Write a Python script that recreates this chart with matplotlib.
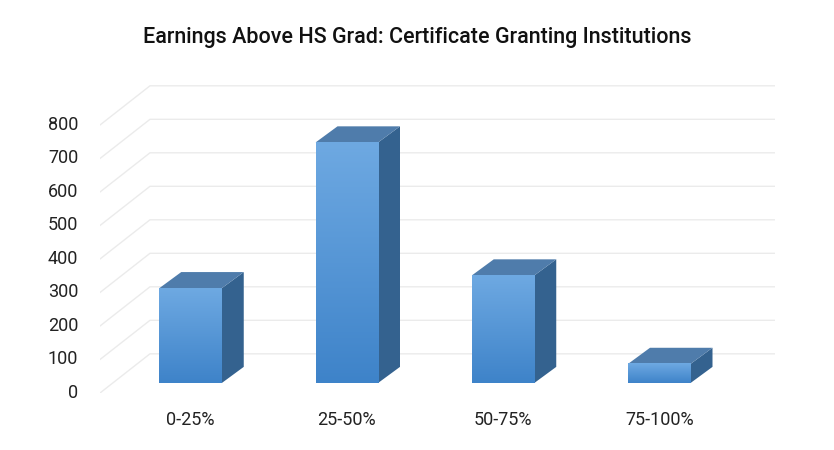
import matplotlib
matplotlib.use("Agg")
import matplotlib.pyplot as plt
import numpy as np
from matplotlib.patches import Polygon

categories = ["0-25%", "25-50%", "50-75%", "75-100%"]
values = [283, 718, 321, 57]
tick_values = [0, 100, 200, 300, 400, 500, 600, 700, 800]

plt.rcParams["font.family"] = ["Roboto", "DejaVu Sans"]

fig = plt.figure(figsize=(8.34, 4.5), dpi=100)
ax = fig.add_axes([100 / 834, 57 / 450, 675 / 834, 333 / 450])
ax.set_xlim(-0.58, 3.74)
ax.set_ylim(-30, 964)
ax.axis("off")

# perspective offsets (data units)
wall_dx, wall_dy = 0.32, 117   # floor depth of back wall
bar_dx, bar_dy = 0.14, 48      # bar depth
half_w = 0.2

# slanted gridlines on back wall
for v in tick_values:
    ax.plot([-0.58, -0.58 + wall_dx, 3.74], [v - 30, v - 30 + wall_dy, v - 30 + wall_dy],
            color="#ebebeb", lw=1, zorder=1)
    ax.text(-0.72, v - 30, str(v), ha="right", va="center", fontsize=13, color="#222222")

grad = np.linspace(1, 0, 256).reshape(-1, 1)
cmap = matplotlib.colors.LinearSegmentedColormap.from_list("b", ["#3e83c9", "#6ea9e2"])
for i, (cat, v) in enumerate(zip(categories, values)):
    x0, x1 = i - half_w, i + half_w
    # side face
    ax.add_patch(Polygon([(x1, 0), (x1 + bar_dx, bar_dy), (x1 + bar_dx, v + bar_dy), (x1, v)],
                         closed=True, fc="#34628f", ec="none", zorder=2))
    # top face
    ax.add_patch(Polygon([(x0, v), (x0 + bar_dx, v + bar_dy), (x1 + bar_dx, v + bar_dy), (x1, v)],
                         closed=True, fc="#4f7cab", ec="none", zorder=2))
    # front face gradient
    ax.imshow(grad[::-1], extent=[x0, x1, 0, v], cmap=cmap, aspect="auto", zorder=3,
              origin="lower")
    ax.text(i, -110, cat, ha="center", va="center", fontsize=13, color="#222222")

ax.set_xlim(-0.58, 3.74)
ax.set_ylim(-30, 964)

fig.text(0.5, 412 / 450, "Earnings Above HS Grad: Certificate Granting Institutions",
         ha="center", va="center", fontsize=15.5, fontweight="medium", color="#111111")

fig.savefig("out.png", dpi=100)
